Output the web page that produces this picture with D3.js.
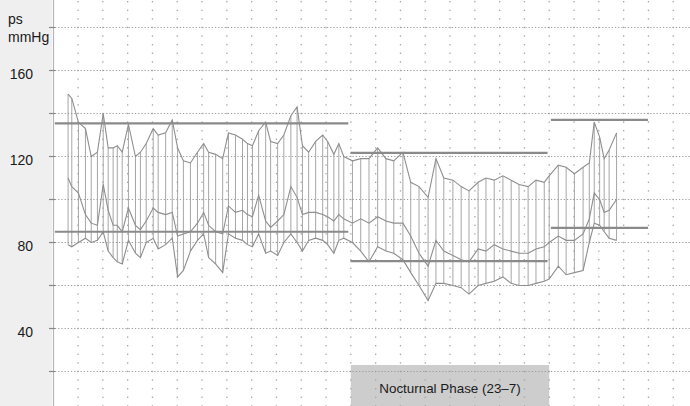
<!DOCTYPE html>
<html>
<head>
<meta charset="utf-8">
<script src="https://cdn.jsdelivr.net/npm/d3@7"></script>
<style>
  html, body { margin: 0; padding: 0; background: #fff; }
  svg { display: block; font-family: "Liberation Sans", Arial, sans-serif; }
</style>
</head>
<body>
<figure id="abpm" style="margin:0"></figure>
<script>
// measurement times (clock time, wraps past midnight)
const times = [
  "11:36","11:45","12:01","12:18","12:32","12:47","13:01","13:13","13:25","13:35",
  "13:47","14:02","14:19","14:31","14:45","15:02","15:14","15:32","15:48","16:01",
  "16:15","16:32","16:49","17:04","17:16","17:33","17:50","18:04","18:21","18:38",
  "18:50","19:02","19:17","19:34","19:46","20:03","20:18","20:35","20:50","21:03",
  "21:18","21:35","21:52","22:04","22:19","22:31","22:43",
  "23:04","23:24","23:44","00:05","00:25","00:44","01:06","01:25","01:45","02:07",
  "02:26","02:45","03:07","03:27","03:46","04:08","04:27","04:47","05:08","05:28",
  "05:47","06:09","06:28","06:48",
  "07:00","07:22","07:41","08:01","08:22","08:37","08:49","09:02","09:13","09:25","09:43"
];
const systolic = [
  149,147,136,133,120,122,140,124,124,125,
  122,135,120,122,126,133,130,131,137,124,
  118,117,122,126,122,121,119,131,130,128,
  126,125,132,136,127,126,130,139,143,125,
  122,127,130,127,121,126,120,
  118,119,119,124,119,118,122,108,106,101,
  119,110,109,106,104,108,110,109,111,109,
  107,106,109,108,
  111,116,115,112,115,117,136,129,119,123,131
];
const meanPressure = [
  110,106,103,93,89,88,107,95,88,88,
  85,96,88,86,90,96,94,93,94,83,
  84,85,89,94,88,85,84,97,94,95,
  93,92,102,90,87,90,93,106,101,93,
  94,94,93,92,90,93,91,
  89,91,89,92,90,89,89,83,75,69,
  81,76,74,72,71,77,76,79,77,76,
  75,75,77,78,
  80,83,81,81,84,91,103,100,94,95,100
];
const diastolic = [
  79,78,80,82,80,81,85,76,73,71,
  70,81,75,73,80,82,77,79,82,64,
  67,76,81,84,73,70,66,84,82,81,
  79,78,84,75,76,74,80,84,80,76,
  81,82,81,79,75,81,82,
  80,76,71,78,76,75,72,66,60,53,
  61,61,60,59,56,60,61,62,64,61,
  60,60,61,62,
  63,69,65,66,67,80,89,88,85,82,81
];

// period means (day / night / next morning)
const periodStart = ["11:04", "22:59", "07:04"];
const periodEnd = ["22:54", "06:56", "10:59"];
const periodSys = [135.4, 121.7, 137];
const periodDia = [85, 71.3, 86.8];

const yTicks = [180, 160, 140, 120, 100, 80, 60, 40, 20];
const yLabels = [160, 120, 80, 40];
const nightLabel = "Nocturnal Phase (23\u20137)";

const width = 690, height = 406;

// clock string -> hours since midnight of day 1
function toHours(t) {
  const [h, m] = t.split(":").map(Number);
  let v = h + m / 60;
  if (v < 11) v += 24;
  return v;
}

const x = d3.scaleLinear().domain([11, 12]).range([53.2, 78]);
const y = d3.scaleLinear().domain([20, 180]).range([371.5, 27.5]);

const svg = d3.select("figure#abpm")
  .append("svg")
  .attr("width", width)
  .attr("height", height);

// left label strip
svg.append("rect")
  .attr("x", 0).attr("y", 0)
  .attr("width", 52).attr("height", height)
  .attr("fill", "#efefef");

// nocturnal phase box
svg.append("rect")
  .attr("x", x(23)).attr("y", 365)
  .attr("width", x(31) - x(23)).attr("height", height - 365)
  .attr("fill", "#cdcdcd");

svg.append("text")
  .attr("x", (x(23) + x(31)) / 2)
  .attr("y", 393)
  .attr("text-anchor", "middle")
  .attr("font-size", 13.4)
  .attr("fill", "#1a1a1a")
  .text(nightLabel);

// hourly dotted columns
const grid = svg.append("g");
const hours = d3.range(12, 37);
const dotVals = d3.range(0, 200, 4);
hours.forEach(h => {
  grid.selectAll(null)
    .data(dotVals)
    .enter()
    .append("rect")
    .attr("x", x(h) - 0.6)
    .attr("y", d => y(d) - 0.7)
    .attr("width", 1.3)
    .attr("height", 1.4)
    .attr("fill", "#a8a8a8");
});

// major horizontal dotted lines
grid.selectAll("line.major")
  .data(yTicks)
  .enter()
  .append("line")
  .attr("class", "major")
  .attr("x1", 55).attr("x2", width)
  .attr("y1", d => y(d)).attr("y2", d => y(d))
  .attr("stroke", "#9a9a9a")
  .attr("stroke-width", 1.2)
  .attr("stroke-dasharray", "1.2,2");

// axis line and ticks
svg.append("line")
  .attr("x1", 53.5).attr("x2", 53.5)
  .attr("y1", 0).attr("y2", height)
  .attr("stroke", "#b5b5b5")
  .attr("stroke-width", 1.2);

svg.selectAll("line.tick")
  .data(yTicks)
  .enter()
  .append("line")
  .attr("class", "tick")
  .attr("x1", 49).attr("x2", 55)
  .attr("y1", d => y(d)).attr("y2", d => y(d))
  .attr("stroke", "#888")
  .attr("stroke-width", 1.2);

svg.selectAll("text.ylab")
  .data(yLabels)
  .enter()
  .append("text")
  .attr("class", "ylab")
  .attr("x", 33)
  .attr("y", d => y(d) + 8)
  .attr("text-anchor", "end")
  .attr("font-size", 14)
  .attr("fill", "#1a1a1a")
  .text(d => d);

svg.append("text").attr("x", 8).attr("y", 24)
  .attr("font-size", 14).attr("fill", "#1a1a1a").text("ps");
svg.append("text").attr("x", 8).attr("y", 42)
  .attr("font-size", 14).attr("fill", "#1a1a1a").text("mmHg");

// data
const data = times.map((t, i) => ({
  h: toHours(t),
  sys: systolic[i],
  map: meanPressure[i],
  dia: diastolic[i]
}));

const plot = svg.append("g");

plot.selectAll("line.bar")
  .data(data)
  .enter()
  .append("line")
  .attr("class", "bar")
  .attr("x1", d => x(d.h)).attr("x2", d => x(d.h))
  .attr("y1", d => y(d.sys)).attr("y2", d => y(d.dia))
  .attr("stroke", "#9c9c9c")
  .attr("stroke-width", 0.9);

["sys", "map", "dia"].forEach(key => {
  plot.append("path")
    .datum(data)
    .attr("fill", "none")
    .attr("stroke", "#8e8e8e")
    .attr("stroke-width", 1.1)
    .attr("d", d3.line().x(d => x(d.h)).y(d => y(d[key])));
});

// period mean lines
const periods = periodStart.map((s, i) => ({
  h0: toHours(s), h1: toHours(periodEnd[i]) + (i === 1 ? 0 : 0),
  sys: periodSys[i], dia: periodDia[i]
}));
periods.forEach(p => {
  if (p.h1 < p.h0) p.h1 += 24;
  [p.sys, p.dia].forEach(v => {
    plot.append("line")
      .attr("x1", x(p.h0)).attr("x2", x(p.h1))
      .attr("y1", y(v)).attr("y2", y(v))
      .attr("stroke", "#8a8a8a")
      .attr("stroke-width", 2.2);
  });
});
</script>
</body>
</html>
